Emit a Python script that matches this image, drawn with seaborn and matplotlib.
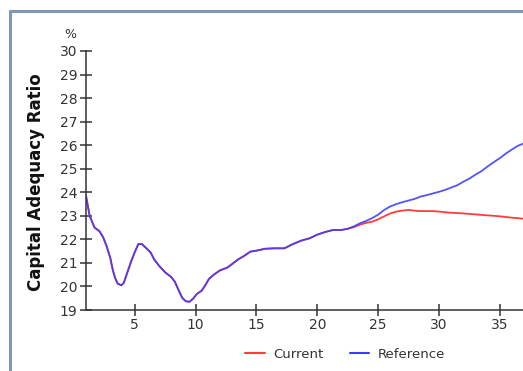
import numpy as np
import pandas as pd
import matplotlib
matplotlib.use("Agg")
import matplotlib.pyplot as plt
import seaborn as sns
from matplotlib.lines import Line2D

# Shared part of both series (identical up to ~22.5)
shared_x = [1.0, 1.3, 1.7, 2.1, 2.4, 2.7, 3.0, 3.2, 3.4, 3.6, 3.9, 4.1, 4.4, 4.7,
            5.0, 5.3, 5.6, 5.9, 6.3, 6.6, 7.0, 7.5, 8.0, 8.3, 8.6, 8.9, 9.2, 9.5,
            9.8, 10.1, 10.5, 10.8, 11.1, 11.5, 12.0, 12.6, 13.0, 13.5, 14.0, 14.5,
            15.0, 15.7, 16.5, 17.3, 18.0, 18.7, 19.4, 20.0, 20.7, 21.3, 22.0, 22.5]
shared_y = [23.85, 23.0, 22.5, 22.35, 22.1, 21.7, 21.2, 20.7, 20.35, 20.12, 20.05,
            20.15, 20.6, 21.05, 21.45, 21.8, 21.8, 21.65, 21.45, 21.15, 20.88, 20.6,
            20.4, 20.2, 19.85, 19.52, 19.37, 19.35, 19.48, 19.68, 19.82, 20.05, 20.32,
            20.5, 20.68, 20.8, 20.95, 21.15, 21.3, 21.48, 21.52, 21.6, 21.62, 21.62,
            21.8, 21.95, 22.05, 22.2, 22.32, 22.4, 22.4, 22.45]

tail_x = [23.0, 23.5, 24.0, 24.5, 25.0, 25.5, 26.0, 26.5, 27.0, 27.5, 28.0, 28.5,
          29.0, 29.5, 30.0, 30.5, 31.0, 31.5, 32.0, 32.5, 33.0, 33.5, 34.0, 34.5,
          35.0, 35.5, 36.0, 36.5, 37.0]
reference_tail = [22.55, 22.68, 22.78, 22.9, 23.05, 23.25, 23.4, 23.5, 23.58, 23.65,
                  23.72, 23.82, 23.88, 23.95, 24.02, 24.1, 24.2, 24.3, 24.45, 24.58,
                  24.75, 24.9, 25.1, 25.28, 25.45, 25.65, 25.82, 25.98, 26.08]
current_tail = [22.52, 22.62, 22.7, 22.75, 22.85, 22.98, 23.1, 23.18, 23.22, 23.25,
                23.22, 23.2, 23.2, 23.2, 23.18, 23.15, 23.13, 23.12, 23.1, 23.08,
                23.06, 23.04, 23.02, 23.0, 22.98, 22.95, 22.92, 22.9, 22.87]

series_names = ["Current", "Reference"]
y_ticks = list(range(19, 31))
x_ticks = [5, 10, 15, 20, 25, 30, 35]

x_all = shared_x + tail_x
df = pd.concat([
    pd.DataFrame({"x": x_all, "value": shared_y + current_tail, "series": "Current"}),
    pd.DataFrame({"x": x_all, "value": shared_y + reference_tail, "series": "Reference"}),
])

sns.set_theme(style="white")
plt.rcParams["font.family"] = ["DejaVu Sans"]

fig = plt.figure(figsize=(5.23, 3.71), dpi=100)
ax = fig.add_axes([86 / 523, 1 - 310 / 371, 1 - 86 / 523, (310 - 51) / 371])

palette = {"Current": "#ff3b3b", "Reference": "#3b3bff"}
sns.lineplot(data=df, x="x", y="value", hue="series", hue_order=series_names,
             palette=palette, linewidth=1.3, ax=ax, legend=False, sort=False,
             estimator=None)
ax.lines[1].set_alpha(0.88)

ax.set_xlim(1, 36.9)
ax.set_ylim(19, 30)
ax.set_yticks(y_ticks)
ax.set_xticks(x_ticks)
ax.set_xlabel("")
ax.set_ylabel("")
for s in ["top", "right"]:
    ax.spines[s].set_visible(False)
for s in ["left", "bottom"]:
    ax.spines[s].set_color("#333333")
    ax.spines[s].set_linewidth(1.1)
ax.tick_params(axis="both", which="major", bottom=True, left=True,
               direction="inout", length=8, width=1.1,
               color="#333333", labelcolor="#333333", labelsize=10)
ax.tick_params(axis="y", pad=2)
ax.tick_params(axis="x", pad=2)

fig.text(70 / 523, 1 - 34 / 371, "%", fontsize=9, color="#333333",
         ha="center", va="center")
fig.text(36 / 523, 1 - 182 / 371, "Capital Adequacy Ratio", fontsize=12,
         fontweight="bold", color="#111111", rotation=90, ha="center", va="center")

handles = [Line2D([], [], color=palette[n], linewidth=1.5) for n in series_names]
fig.legend(handles, series_names, loc="center", bbox_to_anchor=(345 / 523, 1 - 354 / 371),
           ncol=2, frameon=False, fontsize=9.5, handlelength=1.5, columnspacing=2.0,
           handletextpad=0.6, labelcolor="#333333")

# frame border at left and top
fig.add_artist(Line2D([10 / 523, 10 / 523], [0, 1 - 11 / 371], color="#7f97bb",
                      linewidth=2.2, transform=fig.transFigure))
fig.add_artist(Line2D([10 / 523, 1], [1 - 11 / 371, 1 - 11 / 371], color="#7f97bb",
                      linewidth=2.2, transform=fig.transFigure))

fig.savefig("out.png", dpi=100)
